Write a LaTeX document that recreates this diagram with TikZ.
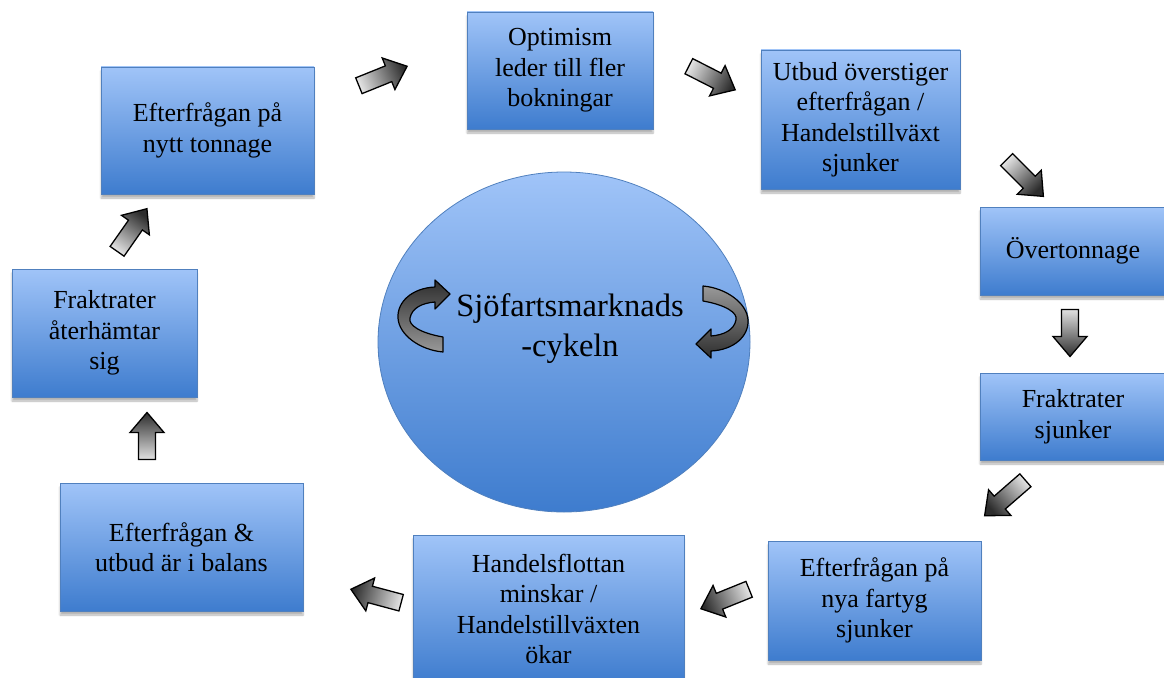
\documentclass[tikz,border=0pt]{standalone}
\usepackage{fontspec}
\setmainfont{Liberation Serif}
\usetikzlibrary{shapes.geometric,shadows.blur}
\definecolor{boxtop}{RGB}{160,196,248}
\definecolor{boxbot}{RGB}{62,124,206}
\definecolor{boxline}{RGB}{80,128,190}
\definecolor{arrlight}{RGB}{225,225,225}
\definecolor{arrdark}{RGB}{45,45,45}
\tikzset{
  cyclebox/.style={rectangle, draw=boxline, line width=0.8pt, top color=boxtop, bottom color=boxbot,
    align=center, font=\fontsize{26}{30.5}\selectfont, inner sep=0pt,
    blur shadow={shadow xshift=0pt, shadow yshift=-4pt, shadow blur steps=6, shadow opacity=30}},
  blockarrow/.style={draw=black, line width=1.3pt, line join=miter},
  ribbon/.style={draw=black, line width=1.2pt, line join=round},
}
% x, y, angle, length, shading angle (= angle+90)
\newcommand{\bArrow}[5]{%
  \begin{scope}[shift={(#1,#2)}, rotate=#3]
    \path[blockarrow, left color=arrlight, right color=arrdark, shading angle=#5]
      ({-#4/2},-8.5) -- ({#4/2-20},-8.5) -- ({#4/2-20},-17) -- ({#4/2},0) --
      ({#4/2-20},17) -- ({#4/2-20},8.5) -- ({-#4/2},8.5) -- cycle;
  \end{scope}}
\begin{document}
\begin{tikzpicture}[x=1pt,y=-1pt]
\useasboundingbox (0,0) rectangle (1164,677);
\clip (0,0) rectangle (1164,677);

% central circle
\node[ellipse, draw=boxline, line width=0.8pt, top color=boxtop, bottom color=boxbot,
  minimum width=372pt, minimum height=340pt, inner sep=0pt] (cyc) at (564,342) {};
\node[font=\fontsize{32.5}{40}\selectfont, align=center] (ctext) at (570,329) {Sjöfartsmarknads\\-cykeln};

% boxes
\node[cyclebox, minimum width=213pt, minimum height=127pt] (b1) at (207.5,130.5) {Efterfrågan på\\nytt tonnage};
\node[cyclebox, minimum width=186pt, minimum height=117pt] (b2) at (560,70.5) {Optimism\\leder till fler\\bokningar};
\node[cyclebox, minimum width=199pt, minimum height=139pt] (b3) at (860.5,119.5) {Utbud överstiger\\efterfrågan /\\Handelstillväxt\\sjunker};
\node[cyclebox, minimum width=186pt, minimum height=88pt] (b4) at (1073,251) {Övertonnage};
\node[cyclebox, minimum width=186pt, minimum height=87pt] (b5) at (1073,416.5) {Fraktrater\\sjunker};
\node[cyclebox, minimum width=213pt, minimum height=119pt] (b6) at (874.5,600.5) {Efterfrågan på\\nya fartyg\\sjunker};
\node[cyclebox, minimum width=271pt, minimum height=148pt] (b7) at (548.5,609) {Handelsflottan\\minskar /\\Handelstillväxten\\ökar};
\node[cyclebox, minimum width=243pt, minimum height=128pt] (b8) at (181.5,547) {Efterfrågan \&\\utbud är i balans};
\node[cyclebox, minimum width=185pt, minimum height=128pt] (b9) at (104.5,333) {Fraktrater\\återhämtar\\sig};

% block arrows
\bArrow{383}{76}{22}{52}{112}
\bArrow{712}{78}{-27}{52}{63}
\bArrow{1025}{178}{-45}{52}{45}
\bArrow{1070}{333}{-90}{47}{0}
\bArrow{1005}{498}{-139}{54}{-49}
\bArrow{725}{599}{202}{52}{292}
\bArrow{376}{596}{165}{52}{255}
\bArrow{147}{436}{90}{47}{180}
\bArrow{132}{230}{55}{52}{145}

% curved arrows in the circle
\path[ribbon, top color=arrdark, bottom color=black!40]
  (443,337) .. controls (420,333) and (408,325) .. (410,318)
  .. controls (412,308) and (422,303) .. (435,302) -- (435,309) -- (450,294) -- (435,280) -- (435,287)
  .. controls (412,288) and (397,302) .. (398,318)
  .. controls (399,335) and (420,350) .. (443,352) -- cycle;
\begin{scope}[rotate around={180:(573,319)}]
\path[ribbon, top color=black!40, bottom color=arrdark]
  (443,337) .. controls (420,333) and (408,325) .. (410,318)
  .. controls (412,308) and (422,303) .. (435,302) -- (435,309) -- (450,294) -- (435,280) -- (435,287)
  .. controls (412,288) and (397,302) .. (398,318)
  .. controls (399,335) and (420,350) .. (443,352) -- cycle;
\end{scope}
\end{tikzpicture}
\end{document}
